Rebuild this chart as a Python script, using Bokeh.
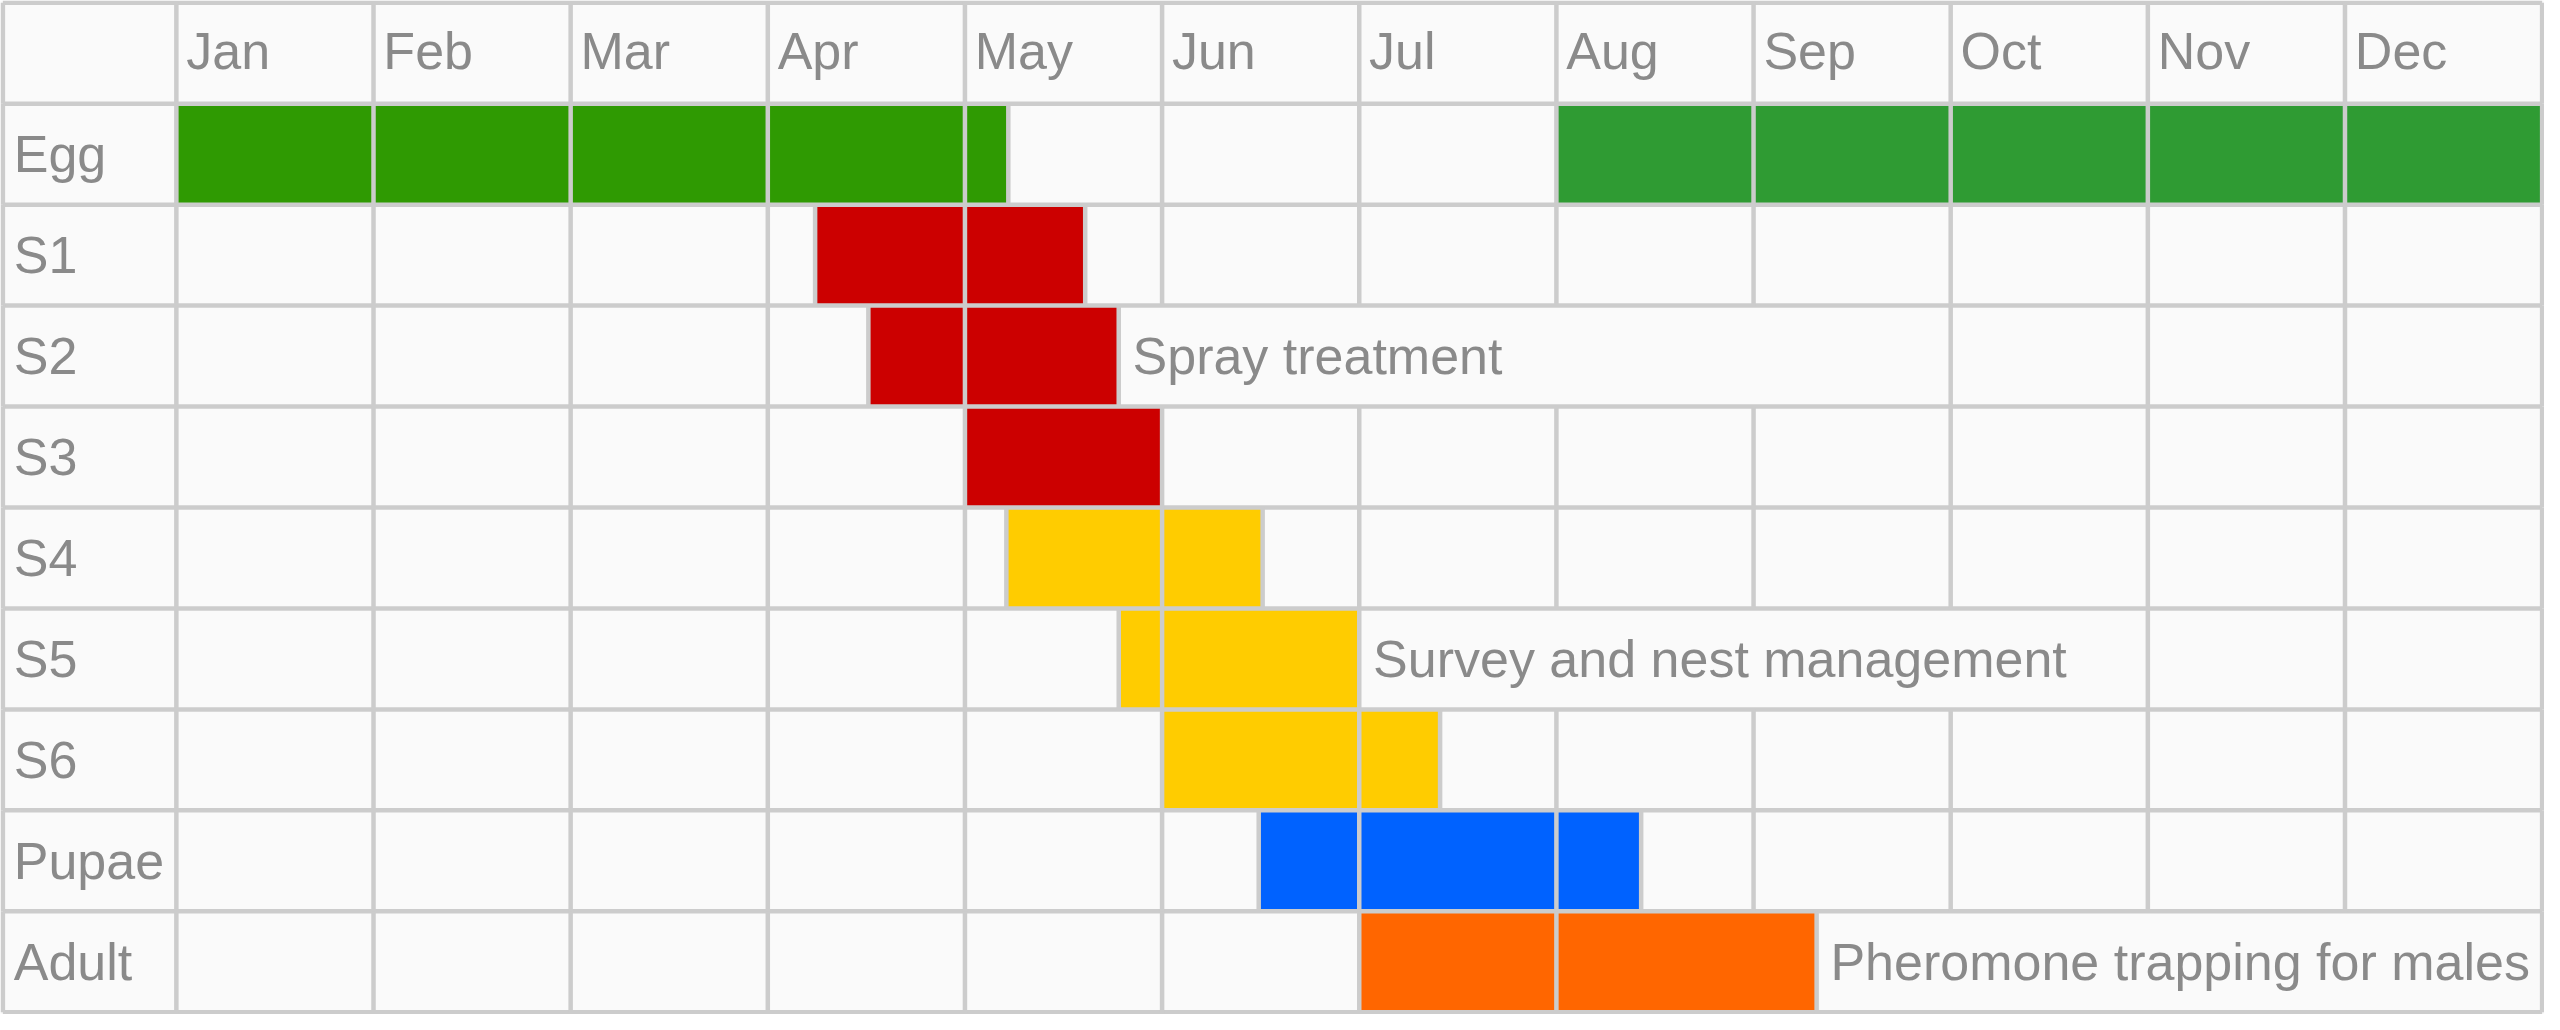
from bokeh.plotting import figure
from bokeh.models import Range1d, ColumnDataSource
from bokeh.core.properties import value
from bokeh.embed import file_html
from bokeh.resources import INLINE

# ---------------- data ----------------
months = ["Jan", "Feb", "Mar", "Apr", "May", "Jun",
          "Jul", "Aug", "Sep", "Oct", "Nov", "Dec"]
stages = ["Egg", "S1", "S2", "S3", "S4", "S5", "S6", "Pupae", "Adult"]

# bars: stage, start (months from 1 Jan), end
bar_stage = ["Egg", "Egg", "S1", "S2", "S3", "S4", "S5", "S6", "Pupae", "Adult"]
bar_start = [0.0, 7.0, 3.24, 3.51, 4.0, 4.21, 4.78, 5.0, 5.49, 6.0]
bar_end = [4.22, 12.0, 4.61, 4.78, 5.0, 5.51, 6.0, 6.41, 7.43, 8.32]
bar_phase = ["egg_spring", "egg_autumn", "spray", "spray", "spray",
             "survey", "survey", "survey", "pupae", "trap"]

# annotations (merged cells holding the management notes)
note_stage = ["S2", "S5", "Adult"]
note_text = ["Spray treatment", "Survey and nest management",
             "Pheromone trapping for males"]
note_span_start = [4.78, 6.0, 7.0]
note_span_end = [9.0, 10.0, 12.0]

# ---------------- styles ----------------
phase_colors = {
    "egg_spring": "#2f9a02",
    "egg_autumn": "#2f9b33",
    "spray": "#cc0000",
    "survey": "#ffcc00",
    "pupae": "#0062ff",
    "trap": "#ff6600",
}
GRID = "#cccccc"
TEXT = "#8a8a8a"
BG = "#fafafa"
FONT = "Liberation Sans"
FSIZE = "52px"
LABEL_W = 0.88      # width of the stage-label column, in months
LW = 4.5

W, H = 2544, 1014
n_rows = len(stages) + 1

p = figure(width=W, height=H, output_backend="svg", toolbar_location=None,
           x_range=Range1d(-LABEL_W - 0.012, 12.012),
           y_range=Range1d(n_rows + 0.022, -0.022),
           min_border=0, min_border_left=0, min_border_right=0,
           min_border_top=0, min_border_bottom=0)
p.axis.visible = False
p.grid.visible = False
p.outline_line_color = None
p.background_fill_color = BG
p.border_fill_color = BG

row_of = {s: i + 1 for i, s in enumerate(stages)}

# bars
src = ColumnDataSource(dict(
    left=bar_start, right=bar_end,
    top=[row_of[s] for s in bar_stage],
    bottom=[row_of[s] + 1 for s in bar_stage],
    color=[phase_colors[ph] for ph in bar_phase],
))
p.quad(left="left", right="right", top="top", bottom="bottom",
       fill_color="color", line_color=None, source=src)

# grid: horizontal lines
hy = list(range(0, n_rows + 1))
p.segment(x0=[-LABEL_W] * len(hy), x1=[12.0] * len(hy), y0=hy, y1=hy,
          line_color=GRID, line_width=LW)

# grid: vertical lines, row by row
vx0, vy0, vy1 = [], [], []
for r in range(n_rows):
    month_lines = set([-LABEL_W] + [float(m) for m in range(13)])
    bar_lines = set()
    if r >= 1:
        st = stages[r - 1]
        for s, a, b in zip(bar_stage, bar_start, bar_end):
            if s == st:
                bar_lines.add(a)
                bar_lines.add(b)
        for s, a, b in zip(note_stage, note_span_start, note_span_end):
            if s == st:
                month_lines = {x for x in month_lines if not (a < x < b)}
    for x in sorted(month_lines | bar_lines):
        vx0.append(x)
        vy0.append(r)
        vy1.append(r + 1)
p.segment(x0=vx0, x1=vx0, y0=vy0, y1=vy1, line_color=GRID, line_width=LW)

# month labels (header row)
p.text(x=[i + 0.05 for i in range(12)], y=[0.48] * 12, text=months,
       text_font=value(FONT), text_font_size=FSIZE, text_color=TEXT,
       text_baseline="middle", text_align="left")

# stage labels
p.text(x=[-LABEL_W + 0.055] * len(stages),
       y=[row_of[s] + 0.5 for s in stages], text=stages,
       text_font=value(FONT), text_font_size=FSIZE, text_color=TEXT,
       text_baseline="middle", text_align="left")

# annotation texts
nx, ny = [], []
for s in note_stage:
    bend = max(b for ss, b in zip(bar_stage, bar_end) if ss == s)
    nx.append(bend + 0.07)
    ny.append(row_of[s] + 0.5)
p.text(x=nx, y=ny, text=note_text,
       text_font=value(FONT), text_font_size=FSIZE, text_color=TEXT,
       text_baseline="middle", text_align="left")

open("out.html", "w").write(file_html(p, INLINE))
